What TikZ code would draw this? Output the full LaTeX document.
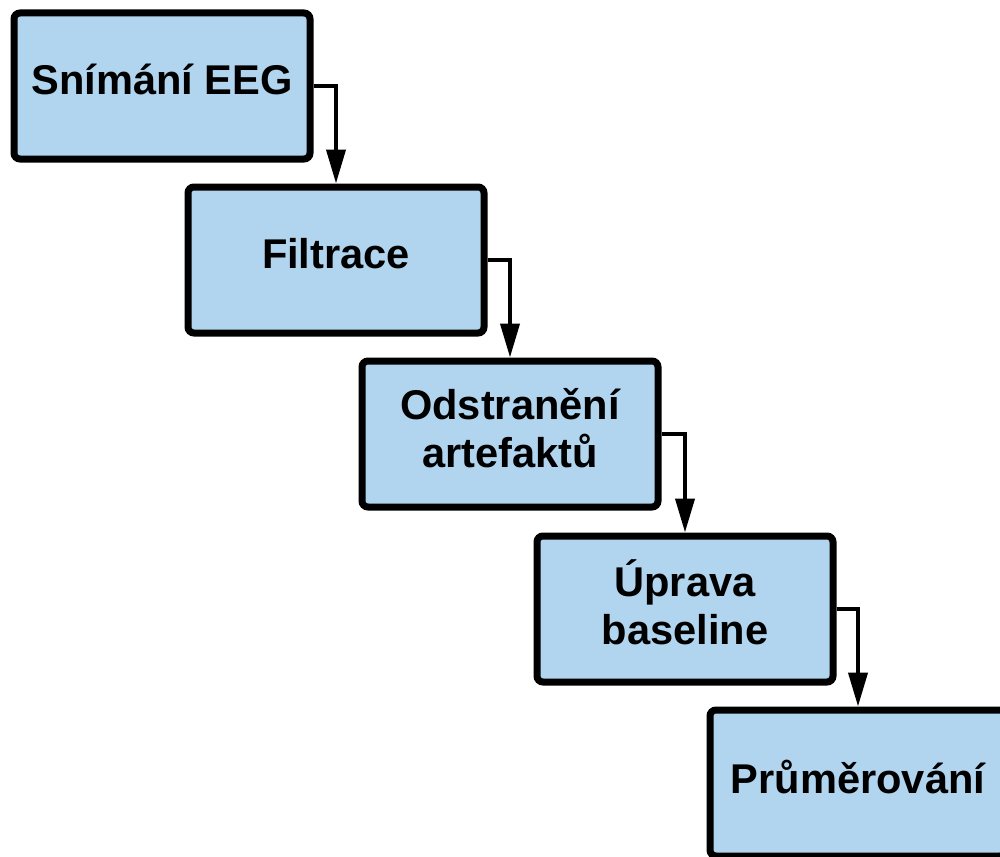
\documentclass[tikz,border=0pt]{standalone}
\usepackage{fontspec}
\setmainfont{Liberation Sans}
\usepackage{tikz}
\usetikzlibrary{arrows.meta,positioning}
\usepackage{xcolor}
\definecolor{stepblue}{RGB}{177,212,239}

\begin{document}
\begin{tikzpicture}[
    x=0.5pt, y=-0.5pt,
    every node/.style={font=\fontsize{20.8}{24}\selectfont\bfseries},
    stage/.style={rectangle, draw=black, fill=stepblue, line width=3.5pt, rounded corners=3pt,
        minimum width=148pt, minimum height=73pt, align=center, text depth=6.5pt},
    flow/.style={draw, line width=2pt, -{Triangle[length=17pt, width=9.5pt]}}
]

% Page frame
\useasboundingbox (0,0) rectangle (1000,856);
\clip (0,0) rectangle (1000,856);

% Processing stages - stepping down to the right
\node[stage] (snimani) at (162, 86) {Snímání EEG};
\node[stage] (filtrace) at (336, 260) {Filtrace};
\node[stage] (artefakty) at (510, 434) {Odstranění\\artefaktů};
\node[stage] (baseline) at (685, 609) {Úprava\\baseline};
\node[stage] (prumer) at (858, 783) {Průměrování};

% Connectors
\draw[flow] (snimani.east) -| (filtrace.north);
\draw[flow] (filtrace.east) -| (artefakty.north);
\draw[flow] (artefakty.east) -| (baseline.north);
\draw[flow] (baseline.east) -| (prumer.north);

\end{tikzpicture}
\end{document}
